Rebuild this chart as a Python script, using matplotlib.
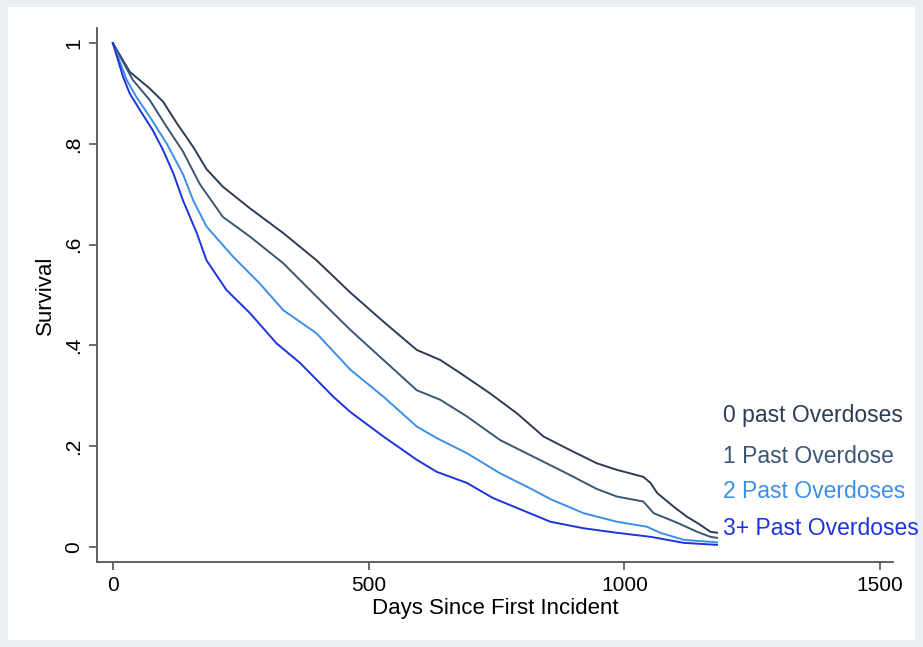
import matplotlib
matplotlib.use("Agg")
import matplotlib.pyplot as plt
from matplotlib.patches import Rectangle

# Kaplan-Meier survival by past overdoses
days0 = [0, 33, 72, 98, 125, 157, 183, 215, 268, 333, 398, 464, 529, 594, 640, 679,
         737, 790, 842, 894, 946, 985, 1037, 1051, 1064, 1096, 1122, 1148, 1168, 1181]
surv0 = [1.0, .943, .910, .884, .841, .794, .750, .715, .672, .623, .569, .505, .447, .391, .371, .345,
         .305, .265, .219, .192, .166, .153, .139, .127, .107, .080, .060, .044, .030, .028]

days1 = [0, 39, 72, 105, 137, 170, 215, 268, 333, 398, 464, 529, 594, 640, 692, 757,
         822, 887, 946, 985, 1037, 1057, 1103, 1142, 1168, 1181]
surv1 = [1.0, .927, .887, .834, .785, .720, .655, .616, .563, .497, .431, .371, .311, .292, .259, .212,
         .179, .146, .115, .100, .090, .067, .048, .030, .020, .018]

days2 = [0, 27, 46, 72, 105, 137, 157, 183, 235, 287, 333, 398, 464, 529, 594, 633,
         692, 757, 822, 855, 920, 985, 1044, 1070, 1116, 1181]
surv2 = [1.0, .927, .893, .854, .801, .740, .688, .636, .576, .523, .470, .424, .352, .298, .239, .216,
         .186, .146, .113, .095, .067, .050, .040, .028, .014, .009]

days3 = [0, 20, 33, 53, 78, 98, 118, 137, 164, 183, 222, 268, 320, 366, 431, 464,
         529, 594, 633, 692, 743, 855, 920, 985, 1051, 1116, 1181]
surv3 = [1.0, .933, .900, .867, .827, .788, .742, .688, .623, .569, .510, .464, .404, .365, .298, .268,
         .219, .173, .149, .127, .097, .050, .037, .028, .020, .008, .004]

labels = ["0 past Overdoses", "1 Past Overdose", "2 Past Overdoses", "3+ Past Overdoses"]
label_y = [.26, .18, .109, .036]
colors = ["#2c3c56", "#3b5674", "#3b8fe9", "#1e33dd"]

plt.rcParams['font.family'] = ['Liberation Sans', 'DejaVu Sans']

fig = plt.figure(figsize=(9.23, 6.47), dpi=100)
fig.patch.set_facecolor("#e8eef1")
fig.patches.append(Rectangle((8 / 923, 7 / 647), 907 / 923, 633 / 647,
                             transform=fig.transFigure, facecolor="white",
                             edgecolor="none", zorder=-5))
ax = fig.add_axes([97 / 923, 85 / 647, 796 / 923, 534 / 647])
ax.set_facecolor("none")

for d, s, c in zip([days0, days1, days2, days3], [surv0, surv1, surv2, surv3], colors):
    ax.plot(d, s, color=c, lw=1.4)

for lab, yy, c in zip(labels, label_y, colors):
    ax.text(1193, yy, lab, color=c, fontsize=16.5, va="center", ha="left", clip_on=False)

ax.set_xlim(-31, 1525)
ax.set_ylim(-0.03, 1.03)
ax.set_xticks([0, 500, 1000, 1500])
ax.set_yticks([0, .2, .4, .6, .8, 1])
ax.set_yticklabels(["0", ".2", ".4", ".6", ".8", "1"], rotation=90, va="center")
ax.tick_params(direction="out", length=6, width=1.1, color="#444444",
               labelsize=15, pad=4)

for side in ["top", "right"]:
    ax.spines[side].set_visible(False)
for side in ["left", "bottom"]:
    ax.spines[side].set_color("#555555")
    ax.spines[side].set_linewidth(1.3)

ax.set_xlabel("Days Since First Incident", fontsize=16, labelpad=2)
ax.set_ylabel("Survival", fontsize=16, labelpad=6)

fig.savefig("out.png", dpi=100, facecolor=fig.get_facecolor())
